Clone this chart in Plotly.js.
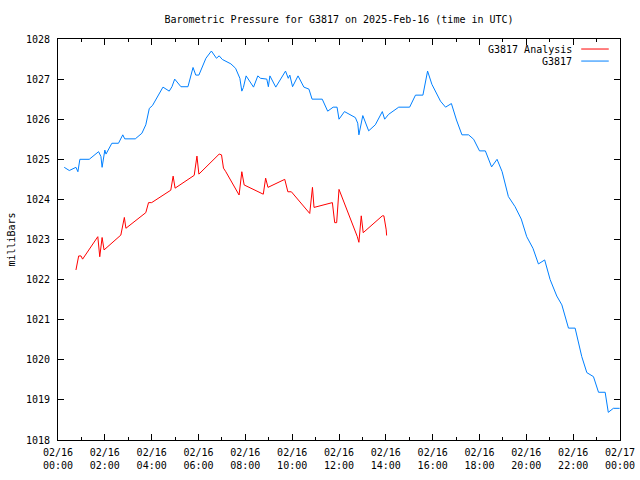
<!DOCTYPE html>
<html>
<head>
<meta charset="utf-8">
<script src="https://cdn.plot.ly/plotly-3.0.1.min.js"></script>
<style>html,body{margin:0;padding:0;background:#fff;}#chart{width:640px;height:480px;}</style>
</head>
<body>
<div id="chart"></div>
<script>
const chartTitle = "Barometric Pressure for G3817 on 2025-Feb-16 (time in UTC)";
const yLabel = "milliBars";
const analysisName = "G3817 Analysis";
const stationName = "G3817";

const stationTimes = [
  "00:16","00:29","00:46","00:51","00:56","01:20","01:44","01:50","01:53","02:00",
  "02:03","02:18","02:35","02:46","02:51","03:18","03:35","03:45","03:54","04:02",
  "04:29","04:45","04:52","04:59","05:15","05:33","05:46","05:53","06:01","06:19",
  "06:33","06:46","06:53","07:01","07:23","07:35","07:46","07:51","07:55","08:02",
  "08:21","08:32","08:39","08:55","08:59","09:03","09:18","09:43","09:50","09:54",
  "10:01","10:15","10:30","10:43","10:51","11:17","11:31","11:45","11:55","12:00",
  "12:14","12:42","12:48","12:51","13:01","13:16","13:33","13:51","13:57","14:07",
  "14:33","15:01","15:16","15:35","15:47","15:58","16:20","16:33","16:48","17:01",
  "17:15","17:32","17:45","18:00","18:15","18:31","18:45","18:58","19:14","19:31",
  "19:47","20:01","20:17","20:31","20:47","21:01","21:18","21:31","21:48","22:05",
  "22:22","22:35","22:52","23:05","23:22","23:30","23:43","23:59"
];
const stationValues = [
  1024.80,1024.72,1024.80,1024.69,1025.00,1025.00,1025.19,1025.07,1024.80,1025.23,
  1025.13,1025.40,1025.40,1025.61,1025.51,1025.51,1025.65,1025.86,1026.27,1026.34,
  1026.80,1026.70,1026.81,1027.00,1026.81,1026.81,1027.29,1027.10,1027.10,1027.52,
  1027.70,1027.52,1027.58,1027.49,1027.38,1027.27,1027.02,1026.70,1026.79,1027.08,
  1026.80,1027.08,1027.02,1027.00,1026.81,1027.08,1026.80,1027.20,1027.02,1027.10,
  1026.81,1027.08,1026.80,1026.75,1026.50,1026.50,1026.20,1026.30,1026.30,1026.00,
  1026.19,1026.04,1025.90,1025.61,1026.09,1025.71,1025.86,1026.19,1026.00,1026.12,
  1026.30,1026.30,1026.60,1026.60,1027.20,1026.87,1026.45,1026.30,1026.39,1025.98,
  1025.61,1025.61,1025.50,1025.21,1025.21,1024.81,1025.00,1024.69,1024.07,1023.82,
  1023.51,1023.07,1022.78,1022.39,1022.49,1022.00,1021.59,1021.37,1020.79,1020.79,
  1020.08,1019.68,1019.58,1019.19,1019.19,1018.69,1018.79,1018.79
];

const analysisTimes = [
  "00:46","00:53","00:59","01:03","01:42","01:47","01:53","01:58","02:41","02:50",
  "02:54","03:45","03:52","04:00","04:49","04:55","05:00","05:49","05:56","06:01",
  "06:53","06:59","07:04","07:10","07:44","07:51","07:57","08:46","08:52","08:58",
  "09:41","09:49","09:58","10:45","10:52","10:56","11:43","11:49","11:54","12:00",
  "12:47","12:51","12:57","13:02","13:51","13:55","14:01","14:02"
];
const analysisValues = [
  1022.24,1022.59,1022.59,1022.51,1023.07,1022.57,1023.05,1022.74,1023.11,1023.55,
  1023.28,1023.67,1023.92,1023.92,1024.23,1024.58,1024.28,1024.60,1025.08,1024.63,
  1025.13,1025.11,1024.78,1024.69,1024.11,1024.69,1024.36,1024.13,1024.53,1024.30,
  1024.50,1024.19,1024.19,1023.65,1024.30,1023.80,1023.92,1023.42,1023.42,1024.25,
  1023.07,1022.93,1023.59,1023.17,1023.59,1023.59,1023.24,1023.10
];

const day = "2025-02-16 ";
const xRange = ["2025-02-16 00:00", "2025-02-17 00:00"];
const yRange = [1018, 1028];

const redColor = "#ff0000";
const blueColor = "#0080ff";
const font = "DejaVu Sans Mono, Liberation Mono, monospace";

const traces = [
  {x: analysisTimes.map(t => day + t), y: analysisValues, name: analysisName, type: "scatter", mode: "lines",
   line: {color: redColor, width: 1}},
  {x: stationTimes.map(t => day + t), y: stationValues, name: stationName, type: "scatter", mode: "lines",
   line: {color: blueColor, width: 1}}
];

const layout = {
  width: 640, height: 480,
  margin: {l: 58, r: 20, t: 39, b: 40},
  paper_bgcolor: "#fff", plot_bgcolor: "#fff",
  showlegend: false,
  font: {family: font, size: 10, color: "#000"},
  title: {text: chartTitle, font: {family: font, size: 10, color: "#000"}, x: 0.5, xref: "paper", y: 0.96, yanchor: "middle"},
  xaxis: {
    type: "date", range: xRange, showgrid: false, zeroline: false,
    showline: true, linecolor: "#000", linewidth: 1, mirror: "ticks",
    ticks: "inside", ticklen: 6, tickcolor: "#000", ticklabelstandoff: 3,
    tick0: "2025-02-16 00:00", dtick: 7200000, tickformat: "%m/%d<br>%H:%M",
    minor: {dtick: 3600000, ticks: "inside", ticklen: 3, tickcolor: "#000"},
    tickfont: {family: font, size: 10, color: "#000"}
  },
  yaxis: {
    range: yRange, showgrid: false, zeroline: false,
    showline: true, linecolor: "#000", linewidth: 1, mirror: "ticks",
    ticks: "inside", ticklen: 6, tickcolor: "#000", dtick: 1, tickformat: "d", ticklabelstandoff: 5,
    tickfont: {family: font, size: 10, color: "#000"},
    title: {text: yLabel, font: {family: font, size: 10, color: "#000"}, standoff: 8}
  },
  annotations: [
    {text: analysisName, xref: "paper", yref: "paper", x: 0.918, y: 0.975, xanchor: "right", yanchor: "middle", showarrow: false, font: {family: font, size: 10, color: "#000"}},
    {text: stationName, xref: "paper", yref: "paper", x: 0.918, y: 0.945, xanchor: "right", yanchor: "middle", showarrow: false, font: {family: font, size: 10, color: "#000"}}
  ],
  shapes: [
    {type: "line", xref: "paper", yref: "paper", x0: 0.931, x1: 0.980, y0: 0.975, y1: 0.975, line: {color: redColor, width: 1}},
    {type: "line", xref: "paper", yref: "paper", x0: 0.931, x1: 0.980, y0: 0.945, y1: 0.945, line: {color: blueColor, width: 1}}
  ]
};

Plotly.newPlot("chart", traces, layout, {staticPlot: true, displayModeBar: false});
</script>
</body>
</html>
